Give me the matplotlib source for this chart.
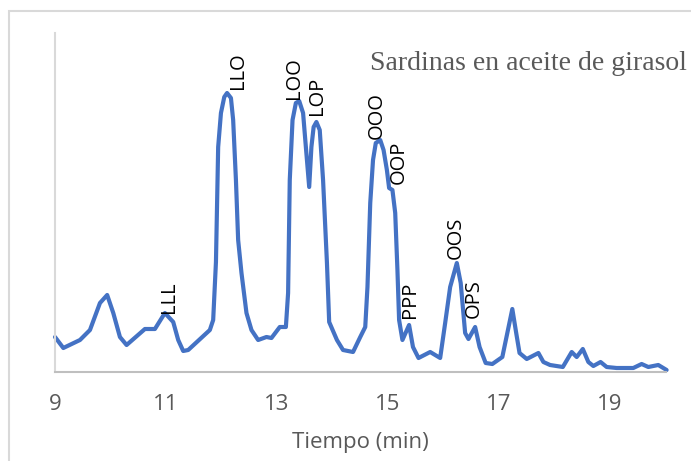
import numpy as np
import matplotlib
matplotlib.use("Agg")
import matplotlib.pyplot as plt
from matplotlib.patches import Rectangle

# chromatogram trace (time in min, signal in arbitrary units)
tiempo = [9.00, 9.15, 9.45, 9.63, 9.81, 9.94, 10.05, 10.17, 10.29, 10.62, 10.80,
          10.98, 11.13, 11.22, 11.31, 11.40, 11.79, 11.85, 11.90, 11.94, 11.99,
          12.05, 12.10, 12.17, 12.21, 12.26, 12.30, 12.36, 12.45, 12.54, 12.66,
          12.81, 12.90, 13.05, 13.16, 13.20, 13.23, 13.28, 13.34, 13.40, 13.47,
          13.52, 13.58, 13.62, 13.66, 13.71, 13.77, 13.83, 13.90, 13.94, 14.08,
          14.19, 14.37, 14.50, 14.59, 14.63, 14.68, 14.73, 14.78, 14.86, 14.92,
          14.98, 15.02, 15.08, 15.13, 15.17, 15.20, 15.26, 15.38, 15.45, 15.55,
          15.76, 15.94, 16.03, 16.12, 16.24, 16.31, 16.39, 16.45, 16.57, 16.65,
          16.76, 16.88, 17.06, 17.15, 17.24, 17.31, 17.37, 17.50, 17.71, 17.80,
          17.92, 18.15, 18.31, 18.40, 18.51, 18.61, 18.70, 18.83, 18.94, 19.12,
          19.42, 19.57, 19.69, 19.87, 20.02]
senal = [35, 24, 32, 42, 69, 77, 59, 35, 27, 43, 43,
         59, 50, 32, 21, 22, 42, 52, 110, 225, 259,
         275, 279, 274, 252, 192, 132, 99, 59, 42, 32,
         35, 34, 45, 45, 79, 192, 252, 269, 271, 259,
         225, 185, 225, 245, 250, 242, 192, 109, 50, 32,
         22, 20, 35, 45, 85, 169, 212, 229, 232, 222,
         202, 184, 182, 159, 102, 52, 32, 47, 25, 14,
         20, 14, 49, 85, 109, 89, 39, 33, 45, 25,
         9, 8, 15, 39, 63, 39, 19, 13, 19, 10,
         7, 5, 20, 15, 23, 10, 6, 10, 5, 4,
         4, 8, 5, 7, 2]

picos = ["LLL", "LLO", "LOO", "LOP", "OOO", "OOP", "PPP", "OOS", "OPS"]
pico_t = [11.05, 12.30, 13.31, 13.72, 14.80, 15.19, 15.39, 16.22, 16.54]
pico_y = [59, 283, 273, 257, 233, 188, 54, 113, 54]

gris = "#595959"

fig = plt.figure(figsize=(6.91, 4.61), dpi=100)
fig.patches.append(Rectangle((9 / 691, -0.1), 1.2, 1 - 11 / 461 + 0.1,
                             transform=fig.transFigure, fill=False,
                             edgecolor="#d9d9d9", linewidth=1.5))
ax = fig.add_axes([55 / 691, 1 - 372 / 461, (665.5 - 55) / 691, (372 - 33) / 461])

ax.plot(tiempo, senal, color="#4472C4", linewidth=3, solid_joinstyle="round",
        solid_capstyle="round", clip_on=False)

for nombre, t, y in zip(picos, pico_t, pico_y):
    ax.text(t, y, nombre, rotation=90, ha="center", va="bottom",
            fontsize=14.5, family="Open Sans", color="black")

ax.text(0.516, 0.911, "Sardinas en aceite de girasol", transform=ax.transAxes,
        fontsize=20, family="Liberation Serif", color=gris, ha="left", va="center")

ax.set_xlim(9, 20)
ax.set_ylim(0, 339)
ax.set_xticks([9, 11, 13, 15, 17, 19])
ax.set_yticks([])
ax.tick_params(axis="x", length=0, pad=16, labelsize=16, labelcolor=gris)
for lbl in ax.get_xticklabels():
    lbl.set_family("Open Sans")
ax.set_xlabel("Tiempo (min)", fontsize=16, color=gris, family="Open Sans", labelpad=12)

ax.spines["top"].set_visible(False)
ax.spines["right"].set_visible(False)
ax.spines["left"].set_color("#d9d9d9")
ax.spines["bottom"].set_color("#bfbfbf")
ax.spines["left"].set_linewidth(1.5)
ax.spines["bottom"].set_linewidth(1.5)

fig.savefig("out.png", dpi=100)
